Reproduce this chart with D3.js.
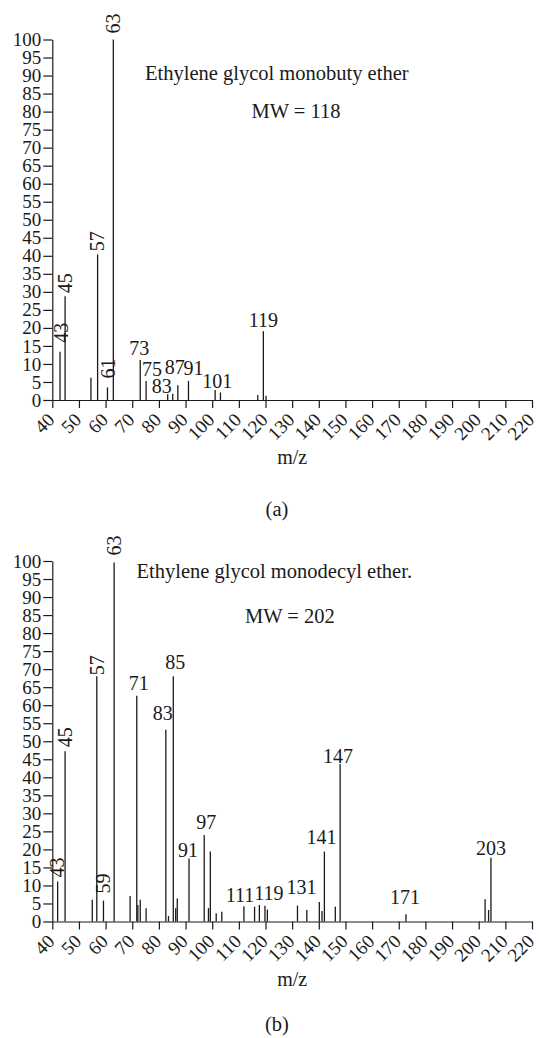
<!DOCTYPE html>
<html>
<head>
<meta charset="utf-8">
<script src="https://cdn.jsdelivr.net/npm/d3@7"></script>
<style>
  body { margin: 0; background: #fff; }
</style>
</head>
<body>
<div id="chart"></div>
<script>
// m/z axis and intensity axis ticks
var xTicks = d3.range(40, 221, 10);
var yTicks = d3.range(0, 101, 5);

// (a) Ethylene glycol monobutyl ether: [m/z, relative intensity, label]
var peaksA = [
  [42.9, 13.4, "43"], [44.8, 28.8, "45"], [54.5, 6.2], [57.0, 40.4, "57"],
  [60.7, 3.5, "61"], [62.9, 100, "63"], [73.0, 11.1, "73"], [75.2, 5.3, "75"],
  [83.3, 1.6, "83"], [85.2, 1.7], [87.1, 4.1, "87"], [91.1, 5.3, "91"],
  [101.1, 2.8, "101"], [103.1, 2.1], [117.1, 1.4], [119.2, 19.1, "119"],
  [120.2, 1.2]
];
var rotatedA = ["43", "45", "57", "61", "63"];

// (b) Ethylene glycol monodecyl ether
var peaksB = [
  [42.0, 11.1, "43"], [44.8, 47.2, "45"], [55.0, 6.0], [56.7, 68.0, "57"],
  [59.2, 5.8, "59"], [63.2, 99.6, "63"], [69.2, 7.1], [71.7, 62.6, "71"],
  [72.1, 4.6], [73.0, 6.0], [75.2, 3.7], [82.6, 53.2, "83"], [83.6, 1.5],
  [85.4, 68.0, "85"], [86.3, 3.7], [86.9, 6.4], [91.3, 17.5, "91"],
  [97.0, 24.0, "97"], [98.6, 3.7], [99.3, 19.4], [101.5, 2.3], [103.6, 2.7],
  [111.9, 4.2, "111"], [115.9, 4.1], [117.7, 4.6], [119.8, 4.4, "119"],
  [120.7, 3.3], [132.0, 4.4, "131"], [135.5, 3.2], [140.2, 5.4], [141.2, 2.9],
  [142.1, 19.4, "141"], [146.2, 4.1], [148.0, 43.7, "147"], [172.7, 2.0, "171"],
  [202.4, 6.2], [203.7, 3.2], [204.6, 17.7, "203"]
];
var rotatedB = ["43", "45", "57", "59", "63"];

var W = 539, H = 1038;
var FONT = "'Liberation Serif', 'Times New Roman', Times, serif";
var INK = "#1a1a1a";

var svg = d3.select("#chart").append("svg")
    .attr("width", W)
    .attr("height", H)
    .style("font-family", FONT);

// label nudges [dx, gap above bar top] in px
var nudgeA = {
  "43": [1, 9], "45": [0, 3], "57": [0, 3], "61": [1, 9], "63": [0, 6],
  "73": [-1, 5], "75": [6, 5], "83": [-6, 1], "87": [-3, 11], "91": [5, 6],
  "101": [2, 2], "119": [0, 4]
};
var nudgeB = {
  "43": [0, 4], "45": [0, 4], "57": [0, 1], "59": [0, 7], "63": [0, 7],
  "71": [2, 6], "83": [-3, 10], "85": [2, 7], "91": [-1, 1], "97": [2, 6],
  "111": [-4, 4], "119": [4, 6], "131": [4, 12], "141": [-3, 8],
  "147": [-2, 1], "171": [-1, 10], "203": [0, 3]
};

function styleText(sel, size) {
    sel.style("font-family", FONT)
       .style("font-size", size + "px")
       .style("fill", INK);
}

function drawSpectrum(opt) {
    var g = svg.append("g").attr("transform", "translate(0," + opt.top + ")");

    var x = d3.scaleLinear().domain([40, 220]).range([52.3, 532]);
    var y = d3.scaleLinear().domain([0, 100]).range([360.5, 0]);

    // x axis, labels turned 45 degrees
    var gx = g.append("g")
        .attr("transform", "translate(0," + y(0) + ")")
        .call(d3.axisBottom(x).tickValues(xTicks).tickSize(8).tickSizeOuter(0));
    gx.selectAll("text")
        .attr("x", 0).attr("y", 0).attr("dy", 0)
        .attr("text-anchor", "end")
        .attr("transform", "translate(3,21) rotate(-45)")
        .call(styleText, 19);

    // y axis
    var gy = g.append("g")
        .attr("transform", "translate(" + x(40) + ",0)")
        .call(d3.axisLeft(y).tickValues(yTicks).tickSize(9).tickPadding(2).tickSizeOuter(0));
    gy.selectAll("text").call(styleText, 19);

    g.selectAll(".domain, .tick line")
        .attr("stroke", INK)
        .attr("stroke-width", 1.2);

    // peaks
    g.selectAll(".peak")
        .data(opt.peaks)
        .enter().append("line")
        .attr("class", "peak")
        .attr("x1", function (d) { return x(d[0]); })
        .attr("x2", function (d) { return x(d[0]); })
        .attr("y1", y(0))
        .attr("y2", function (d) { return y(d[1]); })
        .attr("stroke", INK)
        .attr("stroke-width", 1.3);

    // peak labels
    var labelled = opt.peaks.filter(function (d) { return d[2]; });
    g.selectAll(".plabel")
        .data(labelled)
        .enter().append("text")
        .attr("class", "plabel")
        .call(styleText, 20)
        .each(function (d) {
            var n = opt.nudge[d[2]] || [0, 4];
            var t = d3.select(this).text(d[2]);
            if (opt.rotated.indexOf(d[2]) >= 0) {
                t.attr("text-anchor", "start")
                 .attr("dy", "0.34em")
                 .attr("transform", "translate(" + (x(d[0]) + n[0]) + "," + (y(d[1]) - n[1]) + ") rotate(-90)");
            } else {
                t.attr("text-anchor", "middle")
                 .attr("x", x(d[0]) + n[0])
                 .attr("y", y(d[1]) - n[1]);
            }
        });

    // annotations
    g.append("text")
        .attr("x", opt.titleX).attr("y", opt.titleY - opt.top)
        .call(styleText, 20.5)
        .text(opt.title);
    g.append("text")
        .attr("x", opt.mwX).attr("y", opt.mwY - opt.top)
        .call(styleText, 20.5)
        .text(opt.mw);
    g.append("text")
        .attr("x", (x.range()[0] + x.range()[1]) / 2)
        .attr("y", y(0) + 64)
        .attr("text-anchor", "middle")
        .call(styleText, 20)
        .text("m/z");
    g.append("text")
        .attr("x", 277).attr("y", opt.capY - opt.top)
        .attr("text-anchor", "middle")
        .call(styleText, 20.5)
        .text(opt.caption);
}

drawSpectrum({
    top: 39.5, peaks: peaksA, rotated: rotatedA, nudge: nudgeA,
    title: "Ethylene glycol monobuty ether", titleX: 145, titleY: 80,
    mw: "MW = 118", mwX: 251.5, mwY: 118,
    caption: "(a)", capY: 516
});

drawSpectrum({
    top: 561, peaks: peaksB, rotated: rotatedB, nudge: nudgeB,
    title: "Ethylene glycol monodecyl ether.", titleX: 136.5, titleY: 578,
    mw: "MW = 202", mwX: 245, mwY: 623,
    caption: "(b)", capY: 1031
});
</script>
</body>
</html>
